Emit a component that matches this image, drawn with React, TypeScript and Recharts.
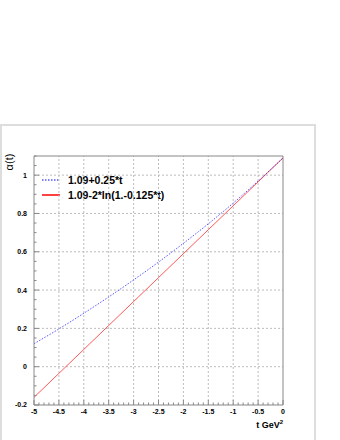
import {
  LineChart,
  Line,
  XAxis,
  YAxis,
  ReferenceLine,
  Customized,
} from "recharts";

// t values (GeV^2) and the two trajectories
const tValues = [-5, -4.5, -4, -3.5, -3, -2.5, -2, -1.5, -1, -0.5, 0];
const redValues = [-0.16, -0.035, 0.09, 0.215, 0.34, 0.465, 0.59, 0.715, 0.84, 0.965, 1.09];
const blueValues = [0.12, 0.197, 0.279, 0.364, 0.453, 0.546, 0.644, 0.746, 0.854, 0.969, 1.09];

const blueName = "1.09+0.25*t";
const redName = "1.09-2*ln(1.-0.125*t)";

const xMajor = [-5, -4.5, -4, -3.5, -3, -2.5, -2, -1.5, -1, -0.5, 0];
const xLabels = ["-5", "-4.5", "-4", "-3.5", "-3", "-2.5", "-2", "-1.5", "-1", "-0.5", "0"];
const yMajor = [-0.2, 0, 0.2, 0.4, 0.6, 0.8, 1];
const yLabels = ["-0.2", "0", "0.2", "0.4", "0.6", "0.8", "1"];

const data = tValues.map((t, i) => ({ t, red: redValues[i], blue: blueValues[i] }));

const xMinor: number[] = [];
for (let i = -50; i <= 0; i++) xMinor.push(Math.round(i) / 10);
const yMinor: number[] = [];
for (let i = -4; i <= 22; i++) yMinor.push(Math.round(i * 5) / 100);

const AXIS = "#888";
const GRID = "#bdbdbd";
const FONT = "'Liberation Sans', Arial, Helvetica, sans-serif";

const near = (a: number, b: number) => Math.abs(a - b) < 1e-6;

const XTick = (props: any) => {
  const { x, y, payload } = props;
  const idx = xMajor.findIndex((v) => near(v, payload.value));
  const major = idx >= 0;
  return (
    <g>
      <line x1={x} y1={y} x2={x} y2={y - (major ? 5 : 2.5)} stroke={AXIS} />
      {major && (
        <text x={x} y={y + 9} textAnchor="middle" fontSize={7} fontWeight="bold" fontFamily={FONT} fill="#000">
          {xLabels[idx]}
        </text>
      )}
    </g>
  );
};

const YTick = (props: any) => {
  const { x, y, payload } = props;
  const idx = yMajor.findIndex((v) => near(v, payload.value));
  const major = idx >= 0;
  return (
    <g>
      <line x1={x} y1={y} x2={x + (major ? 5 : 2.5)} y2={y} stroke={AXIS} />
      {major && (
        <text x={x - 7} y={y} dy="0.35em" textAnchor="end" fontSize={7} fontWeight="bold" fontFamily={FONT} fill="#000">
          {yLabels[idx]}
        </text>
      )}
    </g>
  );
};

const YTitle = () => (
  <text x={13} y={162} transform="rotate(-90 13 162)" textAnchor="middle" fontSize={11} fontFamily={FONT} fill="#000">
    α(t)
  </text>
);

const XTitle = () => (
  <text x={283} y={428} textAnchor="end" fontSize={9} fontWeight="bold" fontFamily={FONT} fill="#000">
    t GeV<tspan dy={-4} fontSize={6}>2</tspan>
  </text>
);

const LegendBox = () => (
  <g fontFamily={FONT} fontWeight="bold" fontSize={10.5} fill="#000">
    <line x1={42} y1={180} x2={60} y2={180} stroke="#0000ff" strokeDasharray="1.5 1.5" />
    <text x={68} y={180} dy="0.35em">{blueName}</text>
    <line x1={42} y1={195} x2={60} y2={195} stroke="#ff0000" strokeWidth={1.5} />
    <text x={68} y={195} dy="0.35em">{redName}</text>
  </g>
);

export default function App() {
  return (
    <div style={{ position: "absolute", left: 0, top: 0, width: 340, height: 440, background: "#fff" }}>
      <div
        style={{
          position: "absolute",
          left: 0,
          top: 124,
          width: 312,
          height: 340,
          border: "2px solid #ddd",
          boxSizing: "content-box",
        }}
      />
      <div style={{ position: "absolute", left: 0, top: 0 }}>
        <LineChart width={340} height={440} data={data} margin={{ top: 156, right: 57, left: 0, bottom: 0 }}>
          {xMajor.slice(1, -1).map((v) => (
            <ReferenceLine key={"gx" + v} x={v} stroke={GRID} strokeDasharray="2 2" />
          ))}
          {yMajor.slice(1).map((v) => (
            <ReferenceLine key={"gy" + v} y={v} stroke={GRID} strokeDasharray="2 2" />
          ))}
          <ReferenceLine y={1.1} stroke={AXIS} />
          <ReferenceLine x={0} stroke={AXIS} />
          <XAxis
            dataKey="t"
            type="number"
            domain={[-5, 0]}
            ticks={xMinor}
            interval={0}
            height={35}
            tickSize={0}
            tickMargin={0}
            tickLine={false}
            axisLine={{ stroke: AXIS }}
            tick={<XTick />}
            label={<XTitle />}
          />
          <YAxis
            type="number"
            domain={[-0.2, 1.1]}
            ticks={yMinor}
            interval={0}
            width={34}
            tickSize={0}
            tickMargin={0}
            tickLine={false}
            axisLine={{ stroke: AXIS }}
            tick={<YTick />}
            label={<YTitle />}
          />
          <Line
            dataKey="red"
            name={redName}
            type="linear"
            stroke="#ff2020"
            strokeWidth={0.75}
            dot={false}
            isAnimationActive={false}
          />
          <Line
            dataKey="blue"
            name={blueName}
            type="monotone"
            stroke="#2020ff"
            strokeWidth={0.75}
            strokeDasharray="1.5 1.5"
            dot={false}
            isAnimationActive={false}
          />
          <Customized component={LegendBox} />
        </LineChart>
      </div>
    </div>
  );
}
